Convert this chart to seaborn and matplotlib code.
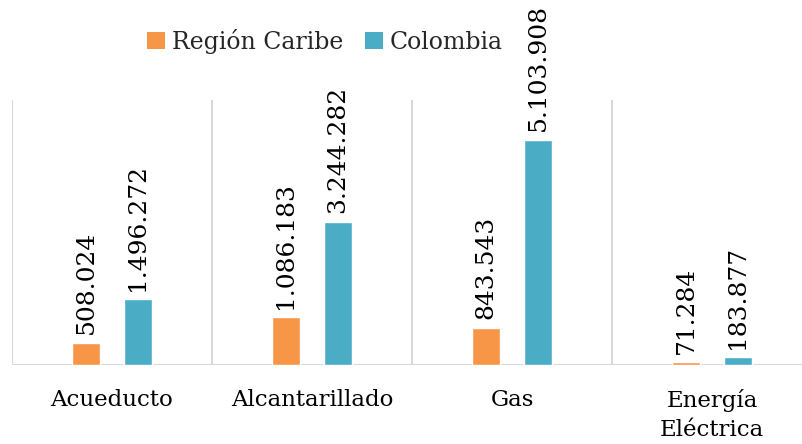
import matplotlib
matplotlib.use("Agg")
import matplotlib.pyplot as plt
import seaborn as sns
import pandas as pd

categories = ["Acueducto", "Alcantarillado", "Gas", "Energía\nEléctrica"]
series = ["Región Caribe", "Colombia"]
region_caribe = [508024, 1086183, 843543, 71284]
colombia = [1496272, 3244282, 5103908, 183877]
colors = ["#F79646", "#4BACC6"]

df = pd.DataFrame({
    "cat": categories * 2,
    "serie": [series[0]] * 4 + [series[1]] * 4,
    "valor": region_caribe + colombia,
})

sns.set_theme(style="white")
plt.rcParams["font.family"] = ["DejaVu Serif"]

fig = plt.figure(figsize=(8.03, 4.44), dpi=100)
ax = fig.add_axes([12 / 803, 79 / 444, 800 / 803, 265 / 444])

sns.barplot(data=df, x="cat", y="valor", hue="serie", order=categories,
            hue_order=series, palette=colors, width=0.52, gap=0.48,
            saturation=1, ax=ax, legend=False)

def fmt(v):
    return f"{v:,}".replace(",", ".")

for cont in ax.containers:
    labels = [fmt(int(round(b.get_height()))) for b in cont]
    ax.bar_label(cont, labels=labels, rotation=90, padding=6, fontsize=18,
                 color="#000000")

ax.set_xlim(-0.5, 3.5)
ax.set_ylim(0, 6000000)
for x in [-0.5, 0.5, 1.5, 2.5, 3.5]:
    ax.axvline(x, color="#D9D9D9", lw=1.5, zorder=0)
ax.axhline(0, color="#D9D9D9", lw=1.5, zorder=0)
for s in ax.spines.values():
    s.set_visible(False)
ax.set_yticks([])
ax.set_xlabel("")
ax.set_ylabel("")
ax.tick_params(axis="x", length=0, pad=17, labelsize=16.5, colors="#000000")
for t in ax.get_xticklabels():
    t.set_verticalalignment("top")
    t.set_linespacing(1.45)

from matplotlib.patches import Patch
handles = [Patch(facecolor=c, edgecolor="none") for c in colors]
fig.legend(handles, series, loc="center", bbox_to_anchor=(325 / 803, 1 - 41 / 444),
           ncol=2, frameon=False, fontsize=17, handlelength=0.75, handleheight=0.75,
           handletextpad=0.3, columnspacing=0.9)

fig.savefig("out.png", dpi=100)
